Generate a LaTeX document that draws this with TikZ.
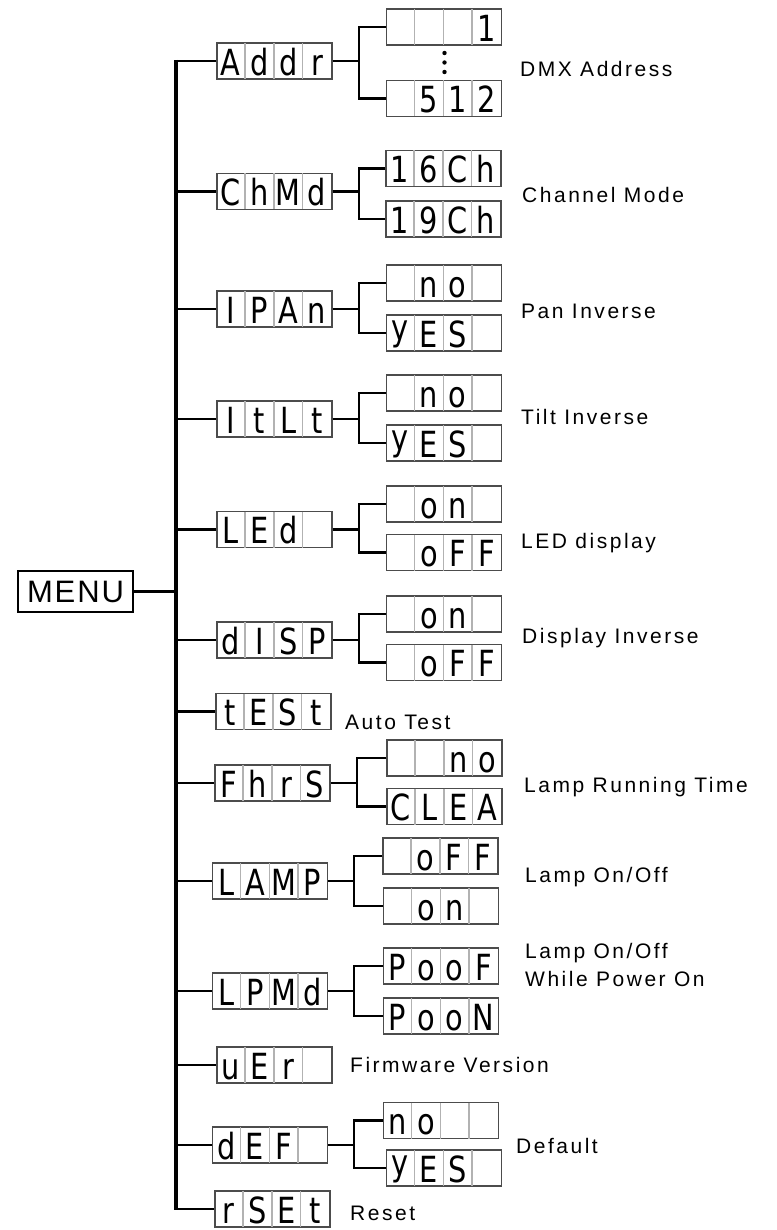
\documentclass[tikz,border=0pt]{standalone}
\usepackage{fontspec}
\setmainfont{Liberation Sans}
\newfontfamily\lblfont[LetterSpace=12]{Liberation Sans}
\newfontfamily\menufont[LetterSpace=6]{Liberation Sans}
\newfontfamily\segfont[FakeStretch=0.8]{DejaVu Sans}
\usetikzlibrary{positioning}

\tikzset{
  segframe/.style={draw=black!70, line width=1.3pt, minimum width=115pt, minimum height=36pt, inner sep=0pt},
  segline/.style={draw=black!30, line width=1.3pt},
  segchar/.style={anchor=base, inner sep=0pt, font=\segfont\fontsize{36}{36}\selectfont},
  trunk/.style={line width=3.4pt},
  branch/.style={line width=2.2pt},
  lbl/.style={anchor=base west, inner sep=0pt, font=\lblfont\fontsize{21}{28}\selectfont},
}

% a four cell display: name, centre, then the four cells
\newcommand\segbox[6]{%
  \node[segframe] (#1) at (#2) {};
  \foreach \k in {1,2,3}
    \draw[segline] ([xshift=\k*28.75pt,yshift=-0.65pt]#1.north west) -- ([xshift=\k*28.75pt,yshift=0.65pt]#1.south west);
  \node[segchar] (#1-1) at ([xshift=14.4pt,yshift=4.5pt]#1.south west) {#3};
  \node[segchar] (#1-2) at ([xshift=43.1pt,yshift=4.5pt]#1.south west) {#4};
  \node[segchar] (#1-3) at ([xshift=71.9pt,yshift=4.5pt]#1.south west) {#5};
  \node[segchar] (#1-4) at ([xshift=100.6pt,yshift=4.5pt]#1.south west) {#6};
}
\newcommand\lowy{\raisebox{7pt}{y}}

\begin{document}
\begin{tikzpicture}[x=1pt, y=-1pt]
   \useasboundingbox (0,0) rectangle (776,1230);
   \node[draw, line width=1.5pt, minimum width=115pt, minimum height=41pt, inner sep=0pt,
         font=\menufont\fontsize{31}{31}\selectfont] (menu) at (75.5,591.5) {MENU};
   \coordinate (top) at (176,60);
   \coordinate (bot) at (176,1210);
   \draw[trunk] (top) -- (bot);
   \draw[trunk] (menu.east) -- (menu.east -| top);

   % menu items
   \segbox{addr}{274.5,61}{A}{d}{d}{r}
   \segbox{chmd}{274.5,191.5}{C}{h}{M}{d}
   \segbox{ipan}{274.5,309}{I}{P}{A}{n}
   \segbox{itlt}{274.5,419}{I}{t}{L}{t}
   \segbox{led}{274.5,529.5}{L}{E}{d}{}
   \segbox{disp}{274.5,640}{d}{I}{S}{P}
   \segbox{test}{273.5,711.5}{t}{E}{S}{t}
   \segbox{fhrs}{272.5,783}{F}{h}{r}{S}
   \segbox{lamp}{270,881}{L}{A}{M}{P}
   \segbox{lpmd}{270,991}{L}{P}{M}{d}
   \segbox{uer}{274.5,1065}{u}{E}{r}{}
   \segbox{def}{270,1145}{d}{E}{F}{}
   \segbox{rset}{272.5,1209}{r}{S}{E}{t}

   % settings
   \segbox{addr1}{444,27}{}{}{}{1}
   \segbox{addr2}{444,98.5}{}{5}{1}{2}
   \segbox{chmd1}{443.5,168.5}{1}{6}{C}{h}
   \segbox{chmd2}{443.5,219}{1}{9}{C}{h}
   \segbox{ipan1}{444,283}{}{n}{o}{}
   \segbox{ipan2}{444,333}{\lowy}{E}{S}{}
   \segbox{itlt1}{444,393}{}{n}{o}{}
   \segbox{itlt2}{444,443}{\lowy}{E}{S}{}
   \segbox{led1}{444,504}{}{o}{n}{}
   \segbox{led2}{444,552.5}{}{o}{F}{F}
   \segbox{disp1}{444,614}{}{o}{n}{}
   \segbox{disp2}{444,662.5}{}{o}{F}{F}
   \segbox{fhrs1}{444.5,758}{}{}{n}{o}
   \segbox{fhrs2}{444.5,806.5}{C}{L}{E}{A}
   \segbox{lamp1}{440.5,856}{}{o}{F}{F}
   \segbox{lamp2}{441,906}{}{o}{n}{}
   \segbox{lpmd1}{441,966}{P}{o}{o}{F}
   \segbox{lpmd2}{441,1016}{P}{o}{o}{N}
   \segbox{def1}{441,1120.5}{n}{o}{}{}
   \segbox{def2}{444,1168}{\lowy}{E}{S}{}

   \fill (444.5,53) circle (2.2);
   \fill (444.5,62.5) circle (2.2);
   \fill (444.5,72) circle (2.2);

   \foreach \n in {addr,chmd,ipan,itlt,led,disp,test,fhrs,lamp,lpmd,uer,def,rset}
      \draw[branch] (\n.west -| top) -- (\n.west);
   \foreach \n in {addr,chmd,ipan,itlt,led,disp,fhrs,lamp,lpmd,def} {
      \draw[branch] (\n.east) -- ++(26,0) coordinate (\n j);
      \draw[branch] (\n1.west) -| (\n j) |- (\n2.west);
   }

   \node[lbl] (addrlbl) at (520,77) {DMX Address};
   \node[lbl] (chmdlbl) at (522,203) {Channel Mode};
   \node[lbl] (ipanlbl) at (521,318) {Pan Inverse};
   \node[lbl] (itltlbl) at (521,424) {Tilt Inverse};
   \node[lbl] (ledlbl) at (521,548) {LED display};
   \node[lbl] (displbl) at (522,643) {Display Inverse};
   \node[lbl] (testlbl) at (345,729) {Auto Test};
   \node[lbl] (fhrslbl) at (524,792) {Lamp Running Time};
   \node[lbl] (lamplbl) at (525,882) {Lamp On/Off};
   \node[lbl, align=left] (lpmdlbl) at (525,986) {Lamp On/Off\\While Power On};
   \node[lbl] (uerlbl) at (350,1072) {Firmware Version};
   \node[lbl] (deflbl) at (516,1153) {Default};
   \node[lbl] (rsetlbl) at (350,1220) {Reset};
\end{tikzpicture}
\end{document}
